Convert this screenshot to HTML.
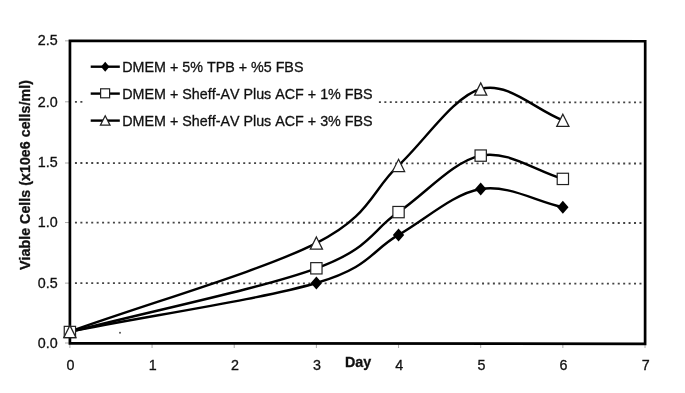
<!DOCTYPE html><html><head><meta charset="utf-8"><style>html,body{margin:0;padding:0;background:#fff;}body{width:685px;height:393px;overflow:hidden;}svg{display:block;filter:grayscale(1)}text{font-kerning:none;stroke:#111;stroke-width:0.3px}</style></head><body>
<svg width="685" height="393" viewBox="0 0 685 393">
<rect width="685" height="393" fill="#fff"/>
<line x1="74.95" y1="283.13" x2="643" y2="283.62" stroke="#444" stroke-width="1.8" stroke-dasharray="2 3.428"/>
<line x1="74.95" y1="222.55" x2="643" y2="223.00" stroke="#444" stroke-width="1.8" stroke-dasharray="2 3.428"/>
<line x1="74.95" y1="163.00" x2="643" y2="163.50" stroke="#444" stroke-width="1.8" stroke-dasharray="2 3.428"/>
<line x1="74.95" y1="101.80" x2="643" y2="102.40" stroke="#444" stroke-width="1.8" stroke-dasharray="2 3.428"/>
<line x1="65" y1="343.00" x2="70" y2="343.00" stroke="#aaa" stroke-width="1"/>
<line x1="65" y1="283.13" x2="70" y2="283.13" stroke="#aaa" stroke-width="1"/>
<line x1="65" y1="222.55" x2="70" y2="222.55" stroke="#aaa" stroke-width="1"/>
<line x1="65" y1="163.00" x2="70" y2="163.00" stroke="#aaa" stroke-width="1"/>
<line x1="65" y1="101.80" x2="70" y2="101.80" stroke="#aaa" stroke-width="1"/>
<line x1="65" y1="40.85" x2="70" y2="40.85" stroke="#aaa" stroke-width="1"/>
<line x1="69.90" y1="343" x2="69.90" y2="348" stroke="#aaa" stroke-width="1"/>
<line x1="152.06" y1="343" x2="152.06" y2="348" stroke="#aaa" stroke-width="1"/>
<line x1="234.22" y1="343" x2="234.22" y2="348" stroke="#aaa" stroke-width="1"/>
<line x1="316.38" y1="343" x2="316.38" y2="348" stroke="#aaa" stroke-width="1"/>
<line x1="398.54" y1="343" x2="398.54" y2="348" stroke="#aaa" stroke-width="1"/>
<line x1="480.70" y1="343" x2="480.70" y2="348" stroke="#aaa" stroke-width="1"/>
<line x1="562.86" y1="343" x2="562.86" y2="348" stroke="#aaa" stroke-width="1"/>
<line x1="645.02" y1="343" x2="645.02" y2="348" stroke="#aaa" stroke-width="1"/>
<rect x="84" y="52" width="294" height="80" fill="#fff"/>
<path d="M69.90 331.50 C152.06 315.33 261.61 299.10 316.38 283.00 C371.15 266.90 371.15 250.57 398.54 234.90 C425.93 219.23 453.31 193.62 480.70 189.00 C508.09 184.38 535.47 201.13 562.86 207.20" fill="none" stroke="#000" stroke-width="2.4" stroke-linejoin="round"/>
<path d="M69.90 332.00 C152.06 310.77 261.61 288.28 316.38 268.30 C371.15 248.32 371.15 230.88 398.54 212.10 C425.93 193.32 453.31 161.13 480.70 155.60 C508.09 150.07 535.47 171.13 562.86 178.90" fill="none" stroke="#000" stroke-width="2.4" stroke-linejoin="round"/>
<path d="M69.90 331.50 C152.06 302.03 261.61 270.78 316.38 243.10 C371.15 215.42 371.15 191.08 398.54 165.40 C425.93 139.72 453.31 96.52 480.70 89.00 C508.09 81.48 535.47 109.87 562.86 120.30" fill="none" stroke="#000" stroke-width="2.4" stroke-linejoin="round"/>
<path d="M69.95 40.85 L645.2 41.25 L645.1 343.8 L69.9 343.3 Z" fill="none" stroke="#000" stroke-width="2.7"/>
<path d="M69.90 325.00 L75.56 331.50 L69.90 338.00 L64.25 331.50Z" fill="#000"/>
<path d="M316.38 276.50 L322.03 283.00 L316.38 289.50 L310.73 283.00Z" fill="#000"/>
<path d="M398.54 228.40 L404.19 234.90 L398.54 241.40 L392.88 234.90Z" fill="#000"/>
<path d="M480.70 182.50 L486.35 189.00 L480.70 195.50 L475.04 189.00Z" fill="#000"/>
<path d="M562.86 200.70 L568.51 207.20 L562.86 213.70 L557.21 207.20Z" fill="#000"/>
<rect x="64.25" y="326.35" width="11.30" height="11.30" fill="#fff" stroke="#222" stroke-width="1.2"/>
<rect x="310.73" y="262.65" width="11.30" height="11.30" fill="#fff" stroke="#222" stroke-width="1.2"/>
<rect x="392.89" y="206.45" width="11.30" height="11.30" fill="#fff" stroke="#222" stroke-width="1.2"/>
<rect x="475.05" y="149.95" width="11.30" height="11.30" fill="#fff" stroke="#222" stroke-width="1.2"/>
<rect x="557.21" y="173.25" width="11.30" height="11.30" fill="#fff" stroke="#222" stroke-width="1.2"/>
<path d="M69.90 325.40 L76.00 337.60 L63.80 337.60Z" fill="#fff" stroke="#222" stroke-width="1.25" stroke-linejoin="miter"/>
<path d="M316.38 237.00 L322.48 249.20 L310.28 249.20Z" fill="#fff" stroke="#222" stroke-width="1.25" stroke-linejoin="miter"/>
<path d="M398.54 159.30 L404.64 171.50 L392.44 171.50Z" fill="#fff" stroke="#222" stroke-width="1.25" stroke-linejoin="miter"/>
<path d="M480.70 82.90 L486.80 95.10 L474.60 95.10Z" fill="#fff" stroke="#222" stroke-width="1.25" stroke-linejoin="miter"/>
<path d="M562.86 114.20 L568.96 126.40 L556.76 126.40Z" fill="#fff" stroke="#222" stroke-width="1.25" stroke-linejoin="miter"/>
<line x1="90.7" y1="66.7" x2="119.8" y2="66.7" stroke="#000" stroke-width="2.4"/>
<path d="M105.20 61.80 L109.45 66.80 L105.20 71.80 L100.95 66.80Z" fill="#000"/>
<text x="122.3" y="71.60" font-family="Liberation Sans, sans-serif" font-size="14.3" fill="#111">DMEM + 5% TPB + %5 FBS</text>
<line x1="90.7" y1="93.6" x2="119.8" y2="93.6" stroke="#000" stroke-width="2.4"/>
<rect x="100.60" y="88.80" width="9.00" height="9.00" fill="#fff" stroke="#222" stroke-width="1.2"/>
<text x="122.3" y="98.50" font-family="Liberation Sans, sans-serif" font-size="14.3" fill="#111">DMEM + Sheff-AV Plus ACF + 1% FBS</text>
<line x1="90.7" y1="120.6" x2="119.8" y2="120.6" stroke="#000" stroke-width="2.4"/>
<path d="M105.20 115.80 L110.00 125.20 L100.40 125.20Z" fill="#fff" stroke="#222" stroke-width="1.25" stroke-linejoin="miter"/>
<text x="122.3" y="125.50" font-family="Liberation Sans, sans-serif" font-size="14.3" fill="#111">DMEM + Sheff-AV Plus ACF + 3% FBS</text>
<text x="57.6" y="348.20" font-family="Liberation Sans, sans-serif" font-size="14.3" fill="#111" text-anchor="end">0.0</text>
<text x="57.6" y="287.50" font-family="Liberation Sans, sans-serif" font-size="14.3" fill="#111" text-anchor="end">0.5</text>
<text x="57.6" y="227.15" font-family="Liberation Sans, sans-serif" font-size="14.3" fill="#111" text-anchor="end">1.0</text>
<text x="57.6" y="167.45" font-family="Liberation Sans, sans-serif" font-size="14.3" fill="#111" text-anchor="end">1.5</text>
<text x="57.6" y="106.55" font-family="Liberation Sans, sans-serif" font-size="14.3" fill="#111" text-anchor="end">2.0</text>
<text x="57.6" y="45.30" font-family="Liberation Sans, sans-serif" font-size="14.3" fill="#111" text-anchor="end">2.5</text>
<text x="70.60" y="369.9" font-family="Liberation Sans, sans-serif" font-size="14.3" fill="#111" text-anchor="middle">0</text>
<text x="152.76" y="369.9" font-family="Liberation Sans, sans-serif" font-size="14.3" fill="#111" text-anchor="middle">1</text>
<text x="234.92" y="369.9" font-family="Liberation Sans, sans-serif" font-size="14.3" fill="#111" text-anchor="middle">2</text>
<text x="317.08" y="369.9" font-family="Liberation Sans, sans-serif" font-size="14.3" fill="#111" text-anchor="middle">3</text>
<text x="399.24" y="369.9" font-family="Liberation Sans, sans-serif" font-size="14.3" fill="#111" text-anchor="middle">4</text>
<text x="481.40" y="369.9" font-family="Liberation Sans, sans-serif" font-size="14.3" fill="#111" text-anchor="middle">5</text>
<text x="563.56" y="369.9" font-family="Liberation Sans, sans-serif" font-size="14.3" fill="#111" text-anchor="middle">6</text>
<text x="645.72" y="369.9" font-family="Liberation Sans, sans-serif" font-size="14.3" fill="#111" text-anchor="middle">7</text>
<text x="345" y="366.6" font-family="Liberation Sans, sans-serif" font-size="14.3" font-weight="bold" fill="#111">Day</text>
<text transform="translate(30.4 270) rotate(-90)" font-family="Liberation Sans, sans-serif" font-size="14.3" font-weight="bold" fill="#111">Viable Cells (x10e6 cells/ml)</text>
<circle cx="120" cy="332.7" r="1" fill="#555"/>
</svg></body></html>
